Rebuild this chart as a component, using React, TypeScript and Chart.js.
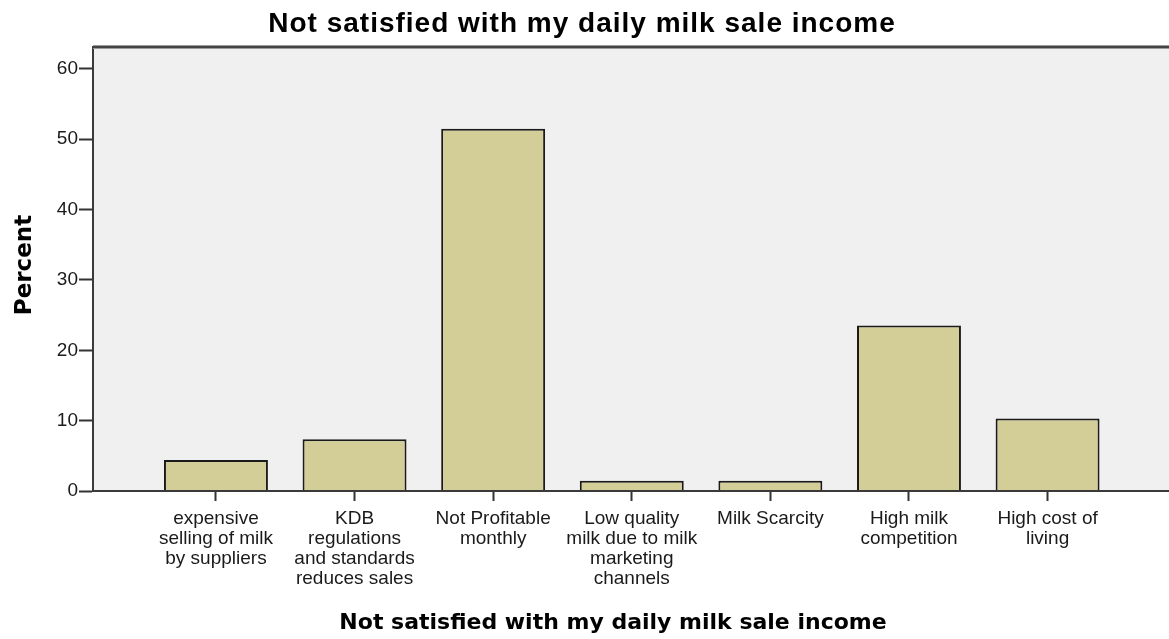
import React, { useEffect, useRef } from 'react';
import { Chart, registerables } from 'chart.js';

Chart.register(...registerables);

const chartTitle = 'Not satisfied with my daily milk sale income';
const xAxisTitle = 'Not satisfied with my daily milk sale income';
const yAxisTitle = 'Percent';

const categories: string[][] = [
  ['expensive', 'selling of milk', 'by suppliers'],
  ['KDB', 'regulations', 'and standards', 'reduces sales'],
  ['Not Profitable', 'monthly'],
  ['Low quality', 'milk due to milk', 'marketing', 'channels'],
  ['Milk Scarcity'],
  ['High milk', 'competition'],
  ['High cost of', 'living'],
];

const percentValues = [4.41, 7.35, 51.47, 1.47, 1.47, 23.53, 10.29];

const yMin = 0;
const yMax = 63.1;
const yStep = 10;
const xMin = -0.887;
const xMax = 6.876;

const W = 1169;
const H = 639;

const decorPlugin = {
  id: 'decor',
  beforeDraw(chart: any) {
    const { ctx, chartArea: a } = chart;
    ctx.save();
    ctx.fillStyle = '#F0F0F0';
    ctx.fillRect(a.left, a.top, a.right - a.left, a.bottom - a.top);
    ctx.restore();
  },
  afterDraw(chart: any) {
    const { ctx, chartArea: a } = chart;
    ctx.save();
    // top frame line
    ctx.strokeStyle = '#9a9a9a';
    ctx.lineWidth = 4;
    ctx.beginPath();
    ctx.moveTo(a.left, a.top);
    ctx.lineTo(a.right, a.top);
    ctx.stroke();
    ctx.strokeStyle = '#444';
    ctx.lineWidth = 2;
    ctx.beginPath();
    ctx.moveTo(a.left, a.top);
    ctx.lineTo(a.right, a.top);
    ctx.stroke();

    // chart title
    ctx.fillStyle = '#000';
    ctx.textAlign = 'center';
    ctx.textBaseline = 'alphabetic';
    ctx.font = 'bold 28px "Liberation Sans", Arial, sans-serif';
    (ctx as any).letterSpacing = '1px';
    ctx.fillText(chartTitle, 582, 32);
    (ctx as any).letterSpacing = '0px';

    // x axis title
    ctx.font = 'bold 22px "DejaVu Sans", sans-serif';
    ctx.fillText(xAxisTitle, 613, 629);

    // y axis title
    ctx.translate(31, 265);
    ctx.rotate(-Math.PI / 2);
    ctx.font = 'bold 23px "DejaVu Sans", sans-serif';
    ctx.fillText(yAxisTitle, 0, 0);
    ctx.restore();
  },
};

export default function App() {
  const ref = useRef<HTMLCanvasElement | null>(null);

  useEffect(() => {
    if (!ref.current) return;
    const tickFont = { family: '"Liberation Sans", Arial, sans-serif', size: 19, lineHeight: 1.05 };
    const chart = new Chart(ref.current, {
      type: 'bar',
      data: {
        datasets: [
          {
            data: percentValues.map((v, i) => ({ x: i, y: v })),
            backgroundColor: '#D3CE98',
            borderColor: '#1a1a1a',
            borderWidth: 2,
            borderSkipped: 'start',
            barPercentage: 0.75,
            categoryPercentage: 1,
          },
        ],
      },
      options: {
        responsive: false,
        animation: false,
        events: [],
        layout: { padding: { top: 47, left: 0, right: 0, bottom: 0 } },
        plugins: {
          legend: { display: false },
          title: { display: false },
          tooltip: { enabled: false },
        },
        scales: {
          x: {
            type: 'linear',
            offset: false,
            min: xMin,
            max: xMax,
            afterFit(scale: any) {
              scale.height = 148;
            },
            border: { display: true, color: '#3a3a3a', width: 2, z: 1 },
            grid: {
              display: true,
              offset: false,
              drawOnChartArea: false,
              drawTicks: true,
              tickLength: 10,
              tickColor: '#333',
              tickWidth: 2,
            },
            ticks: {
              stepSize: 1,
              includeBounds: false,
              autoSkip: false,
              maxRotation: 0,
              minRotation: 0,
              padding: 8,
              color: '#1a1a1a',
              font: tickFont,
              callback: (value: any) => {
                const i = Number(value);
                return Number.isInteger(i) && i >= 0 && i < categories.length ? categories[i] : '';
              },
            },
          },
          y: {
            type: 'linear',
            min: yMin,
            max: yMax,
            afterFit(scale: any) {
              scale.width = 93;
            },
            border: { display: true, color: '#3a3a3a', width: 2, z: 1 },
            grid: {
              display: true,
              drawOnChartArea: false,
              drawTicks: true,
              tickLength: 14,
              tickColor: '#333',
              tickWidth: 2,
            },
            ticks: {
              stepSize: yStep,
              includeBounds: false,
              padding: 1,
              color: '#1a1a1a',
              font: { family: '"Liberation Sans", Arial, sans-serif', size: 19 },
            },
          },
        },
      },
      plugins: [decorPlugin],
    });
    return () => chart.destroy();
  }, []);

  return (
    <div style={{ position: 'fixed', left: 0, top: 0, width: W, height: H, background: '#fff' }}>
      <canvas ref={ref} width={W} height={H} style={{ display: 'block', width: W, height: H }} />
    </div>
  );
}
